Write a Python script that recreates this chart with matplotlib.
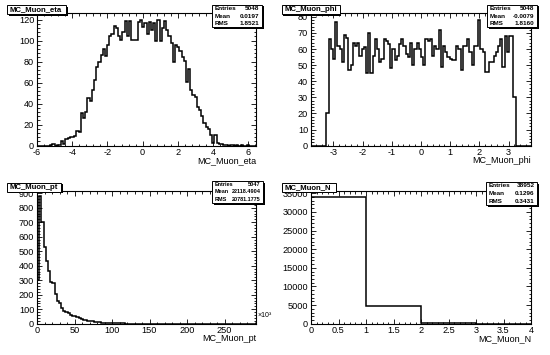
import matplotlib
matplotlib.use("Agg")
import matplotlib.pyplot as plt
import numpy as np
from matplotlib.patches import Rectangle
from matplotlib.ticker import FormatStrFormatter, MultipleLocator

plt.rcParams["font.family"] = ["Liberation Sans", "DejaVu Sans"]
plt.rcParams["axes.unicode_minus"] = False

# bin contents (100 bins each, except N)
eta_counts = [0, 0, 0, 0, 0, 0, 1, 2, 0, 1,
              1, 4, 2, 6, 7, 8, 8, 9, 14, 13,
              31, 26, 32, 45, 43, 53, 63, 75, 80, 86,
              92, 85, 96, 104, 106, 114, 112, 104, 101, 108,
              119, 104, 119, 101, 101, 101, 118, 120, 113, 117,
              106, 118, 110, 117, 100, 120, 100, 112, 119, 110,
              104, 98, 80, 96, 94, 90, 84, 81, 61, 73,
              53, 48, 46, 37, 34, 28, 22, 18, 16, 10,
              3, 10, 3, 2, 2, 1, 1, 0, 1, 1,
              0, 1, 0, 1, 0, 0, 1, 0, 0, 0]
eta_range = (-6.0, 6.44)

phi_counts = [0, 0, 0, 0, 0, 0, 0,
              20, 66, 60, 54, 77, 62, 60, 52, 69, 67, 47, 50, 64, 62,
              64, 56, 60, 61, 45, 70, 45, 56, 66, 60, 52, 54, 66, 65,
              63, 48, 60, 53, 56, 63, 66, 62, 57, 55, 64, 50, 60, 64,
              60, 55, 50, 66, 65, 66, 56, 62, 60,
              72, 49, 62, 58, 55, 54, 53, 53, 62, 60, 47, 62, 62, 66, 58, 50, 62, 62,
              78, 60, 58, 46, 46, 52, 52, 56, 58, 62, 66, 49, 68, 58, 68, 68, 30,
              0, 0, 0, 0, 0, 0, 0]
phi_range = (-3.77, 3.77)

pt_counts = [300, 880, 700, 530, 435, 365, 285, 280, 205, 155,
             140, 110, 90, 82, 75, 62, 55, 50, 45, 38,
             35, 28, 26, 22, 18, 16, 14, 11, 9, 8,
             7, 6, 5, 4, 4, 3, 3, 2, 2, 2,
             1, 1, 1, 1, 0, 1, 0, 0, 1, 0] + [0] * 50
pt_range = (0, 292)

n_counts = [34000, 4856, 96, 0]
n_range = (0, 4)

titles = ["MC_Muon_eta", "MC_Muon_phi", "MC_Muon_pt", "MC_Muon_N"]
entries = ["5048", "5048", "5047", "38952"]
means = ["0.0197", "-0.0079", "22118.4904", "0.1296"]
rms = ["1.8521", "1.8160", "20781.1775", "0.3431"]

W, H = 550, 355
fig = plt.figure(figsize=(W / 100, H / 100), dpi=100)


def px_axes(x0, y0, x1, y1):
    return fig.add_axes([x0 / W, 1 - y1 / H, (x1 - x0) / W, (y1 - y0) / H])


def px_box(x0, y0, x1, y1):
    # ROOT-style box with a dark drop shadow
    fig.patches.append(Rectangle((x0 / W + 1.5 / W, 1 - y1 / H - 1.5 / H),
                                 (x1 - x0) / W, (y1 - y0) / H,
                                 transform=fig.transFigure, fc="black",
                                 ec="black", lw=0, zorder=5))
    fig.patches.append(Rectangle((x0 / W, 1 - y1 / H), (x1 - x0) / W,
                                 (y1 - y0) / H, transform=fig.transFigure,
                                 fc="white", ec="black", lw=0.7, zorder=6))


panels = [
    # frame px, title box px, stats box px
    ((37, 13.3, 256, 145.7), (7, 5, 66, 14), (212, 5, 262, 27)),
    ((311, 13.3, 531, 145.7), (282, 5, 340, 14), (487, 5, 537, 27)),
    ((37, 190.7, 256, 323.7), (7, 183, 61, 192), (212, 181, 263, 203)),
    ((311, 190.7, 531, 323.7), (282, 183, 336, 192), (486, 182, 537, 205)),
]
data = [(eta_counts, eta_range, 126, 2, 0.4, 20, 4),
        (phi_counts, phi_range, 82.2, 1, 0.2, 10, 2),
        (pt_counts, pt_range, 918, 50, 10, 100, 20),
        (n_counts, n_range, 35700, 0.5, 0.1, 5000, 1000)]

for k, ((frame, tbox, sbox), (counts, rng, ymax, xmaj, xmin, ymaj, ymin)) in \
        enumerate(zip(panels, data)):
    ax = px_axes(*frame)
    edges = np.linspace(rng[0], rng[1], len(counts) + 1)
    ax.stairs(counts, edges, color="black", lw=1.1, baseline=0)
    ax.set_xlim(*rng)
    ax.set_ylim(0, ymax)
    ax.xaxis.set_major_locator(MultipleLocator(xmaj))
    ax.xaxis.set_minor_locator(MultipleLocator(xmin))
    ax.yaxis.set_major_locator(MultipleLocator(ymaj))
    ax.yaxis.set_minor_locator(MultipleLocator(ymin))
    ax.xaxis.set_major_formatter(FormatStrFormatter("%g"))
    ax.yaxis.set_major_formatter(FormatStrFormatter("%g"))
    ax.tick_params(which="both", direction="in", top=True, right=True,
                   width=0.6, labelsize=6.6)
    ax.tick_params(which="major", length=3.5)
    ax.tick_params(which="minor", length=1.8)
    ax.tick_params(axis="x", pad=1.5)
    ax.tick_params(axis="y", pad=2.0)
    for s in ax.spines.values():
        s.set_linewidth(0.8)
    ax.text(1.0, -0.11, titles[k], transform=ax.transAxes, ha="right",
            va="center", fontsize=6.5)
    if k == 2:
        ax.text(1.005, 0.06, "×10³", transform=ax.transAxes, ha="left",
                va="center", fontsize=5)

    px_box(*tbox)
    fig.text((tbox[0] + 2.5) / W, 1 - (tbox[1] + tbox[3]) / 2 / H, titles[k],
             ha="left", va="center", fontsize=5.6, fontweight="bold", zorder=7)

    px_box(*sbox)
    fs = 4 if k == 2 else 4.6
    rows = [("Entries", entries[k]), ("Mean", means[k]), ("RMS", rms[k])]
    hgt = (sbox[3] - sbox[1]) / 3
    for r, (lab, val) in enumerate(rows):
        yc = 1 - (sbox[1] + hgt * (r + 0.5)) / H
        fig.text((sbox[0] + 2.5) / W, yc, lab, ha="left", va="center",
                 fontsize=fs, fontweight="bold", zorder=7)
        fig.text((sbox[2] - 2.5) / W, yc, val, ha="right", va="center",
                 fontsize=fs, fontweight="bold", zorder=7)

fig.savefig("out.png", dpi=100)
